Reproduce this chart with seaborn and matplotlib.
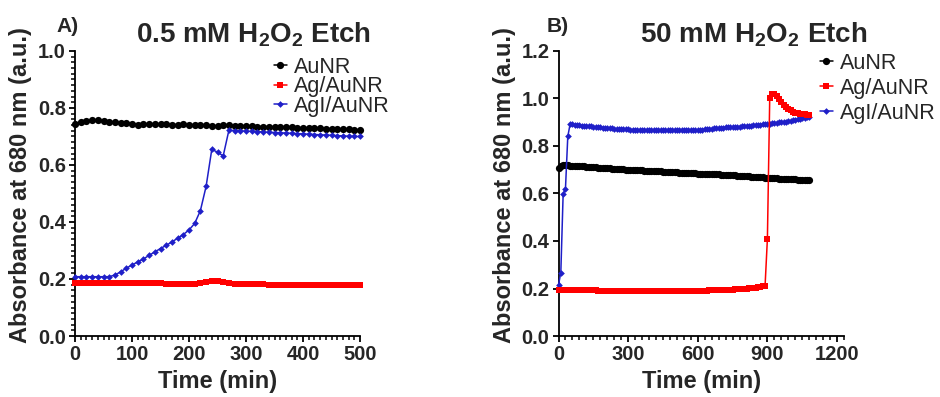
import matplotlib
matplotlib.use("Agg")
import matplotlib.pyplot as plt
import seaborn as sns
import pandas as pd

# ---------------- data ----------------
series_names = ["AuNR", "Ag/AuNR", "AgI/AuNR"]

time_a = list(range(0, 510, 10))
aunr_a = [0.744, 0.752, 0.755, 0.757, 0.757, 0.755, 0.752, 0.750, 0.749, 0.749,
          0.745, 0.742, 0.745, 0.744, 0.743, 0.743, 0.744, 0.741, 0.742, 0.743,
          0.740, 0.739, 0.740, 0.739, 0.738, 0.737, 0.741, 0.739, 0.738, 0.737,
          0.738, 0.736, 0.735, 0.735, 0.734, 0.733, 0.733, 0.732, 0.732, 0.731,
          0.731, 0.730, 0.729, 0.729, 0.728, 0.727, 0.727, 0.726, 0.725, 0.723,
          0.722]
ag_a = [0.187, 0.187, 0.187, 0.187, 0.186, 0.186, 0.186, 0.186, 0.186, 0.185,
        0.185, 0.185, 0.185, 0.185, 0.185, 0.185, 0.184, 0.184, 0.184, 0.184,
        0.183, 0.183, 0.185, 0.189, 0.192, 0.193, 0.191, 0.186, 0.181, 0.181,
        0.181, 0.181, 0.181, 0.181, 0.180, 0.180, 0.180, 0.180, 0.180, 0.180,
        0.180, 0.180, 0.180, 0.180, 0.180, 0.180, 0.179, 0.179, 0.179, 0.179,
        0.179]
agi_a = [0.208, 0.208, 0.208, 0.208, 0.208, 0.208, 0.208, 0.214, 0.225, 0.238,
         0.249, 0.260, 0.270, 0.283, 0.295, 0.307, 0.318, 0.330, 0.343, 0.356,
         0.372, 0.395, 0.440, 0.525, 0.655, 0.645, 0.632, 0.722, 0.721, 0.720,
         0.719, 0.718, 0.717, 0.716, 0.715, 0.714, 0.713, 0.712, 0.711, 0.710,
         0.709, 0.708, 0.707, 0.706, 0.705, 0.704, 0.703, 0.702, 0.701, 0.700,
         0.700]

time_b = list(range(0, 1090, 10))
aunr_b = [0.706, 0.716, 0.718, 0.718, 0.718, 0.717, 0.717, 0.716, 0.716, 0.715,
          0.715, 0.714, 0.713, 0.712, 0.712, 0.711, 0.710, 0.709, 0.709, 0.708,
          0.707, 0.706, 0.706, 0.705, 0.704, 0.704, 0.703, 0.702, 0.702, 0.701,
          0.700, 0.700, 0.699, 0.699, 0.698, 0.697, 0.697, 0.696, 0.696, 0.695,
          0.695, 0.694, 0.694, 0.693, 0.693, 0.692, 0.692, 0.691, 0.690, 0.690,
          0.689, 0.689, 0.688, 0.688, 0.687, 0.687, 0.686, 0.686, 0.685, 0.685,
          0.684, 0.684, 0.683, 0.683, 0.682, 0.682, 0.681, 0.681, 0.680, 0.680,
          0.679, 0.679, 0.678, 0.677, 0.677, 0.676, 0.676, 0.675, 0.674, 0.674,
          0.673, 0.672, 0.672, 0.671, 0.670, 0.670, 0.669, 0.668, 0.668, 0.667,
          0.667, 0.666, 0.665, 0.665, 0.664, 0.663, 0.663, 0.662, 0.661, 0.661,
          0.660, 0.659, 0.659, 0.658, 0.657, 0.657, 0.656, 0.655, 0.655]
ag_b = [0.192, 0.192, 0.192, 0.192, 0.192, 0.192, 0.192, 0.192, 0.192, 0.192,
        0.192, 0.192, 0.192, 0.192, 0.192, 0.192, 0.192, 0.191, 0.191, 0.191,
        0.191, 0.191, 0.191, 0.191, 0.191, 0.191, 0.191, 0.191, 0.191, 0.191,
        0.191, 0.191, 0.191, 0.191, 0.191, 0.190, 0.190, 0.190, 0.190, 0.190,
        0.190, 0.190, 0.190, 0.190, 0.190, 0.190, 0.190, 0.190, 0.190, 0.190,
        0.190, 0.190, 0.190, 0.190, 0.190, 0.191, 0.191, 0.191, 0.191, 0.191,
        0.191, 0.191, 0.191, 0.191, 0.191, 0.192, 0.192, 0.192, 0.192, 0.192,
        0.193, 0.193, 0.194, 0.194, 0.195, 0.195, 0.196, 0.197, 0.197, 0.198,
        0.199, 0.200, 0.201, 0.202, 0.203, 0.204, 0.206, 0.207, 0.209, 0.212,
        0.410, 1.000, 1.020, 1.020, 1.010, 0.998, 0.985, 0.973, 0.963, 0.956,
        0.950, 0.945, 0.941, 0.938, 0.936, 0.934, 0.933, 0.932, 0.932]
agi_b = [0.215, 0.267, 0.598, 0.620, 0.840, 0.892, 0.891, 0.889, 0.888, 0.887,
         0.886, 0.885, 0.886, 0.885, 0.883, 0.881, 0.880, 0.879, 0.878, 0.877,
         0.876, 0.875, 0.874, 0.874, 0.873, 0.872, 0.872, 0.871, 0.871, 0.870,
         0.870, 0.869, 0.869, 0.869, 0.868, 0.868, 0.868, 0.867, 0.867, 0.867,
         0.867, 0.866, 0.866, 0.866, 0.866, 0.866, 0.866, 0.866, 0.866, 0.866,
         0.866, 0.866, 0.866, 0.866, 0.867, 0.867, 0.867, 0.867, 0.867, 0.867,
         0.868, 0.868, 0.869, 0.870, 0.871, 0.872, 0.873, 0.874, 0.875, 0.876,
         0.877, 0.877, 0.878, 0.878, 0.879, 0.880, 0.880, 0.881, 0.882, 0.883,
         0.884, 0.884, 0.885, 0.886, 0.887, 0.888, 0.889, 0.890, 0.891, 0.892,
         0.893, 0.894, 0.896, 0.897, 0.898, 0.899, 0.901, 0.902, 0.903, 0.905,
         0.906, 0.908, 0.910, 0.912, 0.914, 0.916, 0.918, 0.921, 0.924]

title_a = "0.5 mM H$_2$O$_2$ Etch"
title_b = "50 mM H$_2$O$_2$ Etch"
xlabel = "Time (min)"
ylabel = "Absorbance at 680 nm (a.u.)"

# ---------------- style ----------------
sns.set_style("ticks")
plt.rcParams["font.family"] = ["Liberation Sans", "DejaVu Sans"]
plt.rcParams["mathtext.fontset"] = "custom"
plt.rcParams["mathtext.rm"] = "Liberation Sans:bold"
plt.rcParams["mathtext.default"] = "rm"

colors = {"AuNR": "#000000", "Ag/AuNR": "#FF0000", "AgI/AuNR": "#1F1FC8"}
markers = {"AuNR": "o", "Ag/AuNR": "s", "AgI/AuNR": "D"}
msizes = {"AuNR": 5.2, "Ag/AuNR": 5.0, "AgI/AuNR": 3.4}

fig = plt.figure(figsize=(9.4, 3.97), dpi=100)
W, H = 940, 397
ax_a = fig.add_axes([75 / W, 1 - 336 / H, 285 / W, 285 / H])
ax_b = fig.add_axes([558.5 / W, 1 - 336 / H, 285.5 / W, 285 / H])


def draw(ax, t, vals):
    handles = {}
    for name in ["AuNR", "AgI/AuNR", "Ag/AuNR"]:
        df = pd.DataFrame({"t": t, "v": vals[name]})
        sns.lineplot(data=df, x="t", y="v", ax=ax, color=colors[name],
                     marker=markers[name], markersize=msizes[name],
                     markeredgewidth=0, linewidth=1.1, clip_on=False,
                     label=name, zorder=3)
        handles[name] = ax.get_lines()[-1]
    ax.get_legend().remove()
    return [handles[n] for n in series_names]


h_a = draw(ax_a, time_a, {"AuNR": aunr_a, "Ag/AuNR": ag_a, "AgI/AuNR": agi_a})
h_b = draw(ax_b, time_b, {"AuNR": aunr_b, "Ag/AuNR": ag_b, "AgI/AuNR": agi_b})

for ax in (ax_a, ax_b):
    sns.despine(ax=ax)
    for s in ("left", "bottom"):
        ax.spines[s].set_linewidth(1.3)
        ax.spines[s].set_color("black")
    ax.set_xlabel(xlabel, fontsize=17, fontweight="bold", labelpad=4)
    ax.set_ylabel(ylabel, fontsize=17, fontweight="bold")
    ax.set_facecolor("white")

ax_a.set_xlim(0, 500)
ax_a.set_ylim(0, 1.0)
ax_a.set_xticks([0, 100, 200, 300, 400, 500])
ax_a.set_xticklabels(["0", "100", "200", "300", "400", "500"], fontweight="bold")
ax_a.set_yticks([0.0, 0.2, 0.4, 0.6, 0.8, 1.0])
ax_a.set_yticklabels(["0.0", "0.2", "0.4", "0.6", "0.8", "1.0"], fontweight="bold")
ax_a.set_xticks([v for v in range(10, 500, 10) if v % 100], minor=True)
ax_a.set_yticks([k / 50 for k in range(1, 50) if k % 10], minor=True)

ax_b.set_xlim(0, 1230)
ax_b.set_ylim(0, 1.2)
ax_b.set_xticks([0, 300, 600, 900, 1200])
ax_b.set_xticklabels(["0", "300", "600", "900", "1200"], fontweight="bold")
ax_b.set_yticks([0.0, 0.2, 0.4, 0.6, 0.8, 1.0, 1.2])
ax_b.set_yticklabels(["0.0", "0.2", "0.4", "0.6", "0.8", "1.0", "1.2"],
                     fontweight="bold")
ax_b.set_xticks([v for v in range(30, 1231, 30) if v % 300], minor=True)

for ax in (ax_a, ax_b):
    ax.tick_params(which="major", length=4.5, width=1.3, color="black",
                   labelsize=14.5, pad=2, bottom=True, left=True,
                   direction="out")
    ax.tick_params(which="minor", length=3.2, width=1.1, color="black",
                   bottom=True, left=True, direction="out")

ax_a.yaxis.set_label_coords(-0.15, 0.528)
ax_b.yaxis.set_label_coords(-0.15, 0.528)

fig.text(254 / W, 1 - 35 / H, title_a, fontsize=20, fontweight="bold",
         ha="center", va="center")
fig.text(754 / W, 1 - 35 / H, title_b, fontsize=20, fontweight="bold",
         ha="center", va="center")
fig.text(56 / W, 1 - 27 / H, "A)", fontsize=15, fontweight="bold",
         ha="left", va="center")
fig.text(547 / W, 1 - 27 / H, "B)", fontsize=15, fontweight="bold",
         ha="left", va="center")

ax_a.legend(h_a, series_names, loc="upper left", frameon=False,
            bbox_to_anchor=(274 / W, 1 - 57 / H), bbox_transform=fig.transFigure,
            fontsize=15.5, handlelength=0.6, handletextpad=0.35,
            borderpad=0, borderaxespad=0, labelspacing=-0.07)
ax_b.legend(h_b, series_names, loc="upper left", frameon=False,
            bbox_to_anchor=(820 / W, 1 - 53 / H), bbox_transform=fig.transFigure,
            fontsize=15.5, handlelength=0.6, handletextpad=0.35,
            borderpad=0, borderaxespad=0, labelspacing=0.18)

fig.savefig("out.png", dpi=100, facecolor="white")
